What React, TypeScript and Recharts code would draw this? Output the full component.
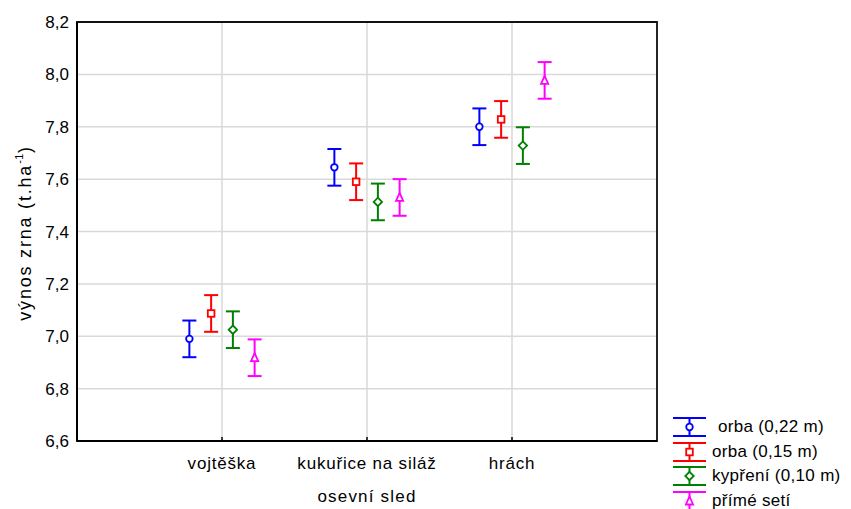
import React from "react";
import {
  ScatterChart,
  Scatter,
  XAxis,
  YAxis,
  CartesianGrid,
  ErrorBar,
  ReferenceArea,
} from "recharts";

const categories = ["vojtěška", "kukuřice na siláž", "hrách"];
const seriesNames = ["orba (0,22 m)", "orba (0,15 m)", "kypření (0,10 m)", "přímé setí"];

const orba22 = [6.99, 7.645, 7.8];
const orba15 = [7.087, 7.59, 7.828];
const kypreni = [7.025, 7.513, 7.728];
const prime = [6.918, 7.53, 7.977];
const errHalf = [0.07, 0.07, 0.07];

const yTicks = [6.6, 6.8, 7.0, 7.2, 7.4, 7.6, 7.8, 8.0, 8.2];

const colors = ["#0000ff", "#ff0000", "#008000", "#ff00ff"];
const shiftX = [-0.225, -0.075, 0.075, 0.225];
const shapes = ["circle", "square", "diamond", "triangle"];
const font = "'Liberation Sans', Arial, sans-serif";

const allSeries = [orba22, orba15, kypreni, prime];

const buildData = (vals: number[], k: number) =>
  vals.map((v, i) => ({ x: i + 1 + shiftX[k], y: v, err: errHalf[i] }));

const Marker = ({ kind, cx, cy, color }: { kind: string; cx: number; cy: number; color: string }) => {
  if (kind === "circle") return <circle cx={cx} cy={cy} r={3.3} fill="#fff" stroke={color} strokeWidth={1.8} />;
  if (kind === "square")
    return <rect x={cx - 3.3} y={cy - 3.3} width={6.6} height={6.6} fill="#fff" stroke={color} strokeWidth={1.8} />;
  if (kind === "diamond")
    return (
      <polygon
        points={`${cx},${cy - 4.2} ${cx + 4.2},${cy} ${cx},${cy + 4.2} ${cx - 4.2},${cy}`}
        fill="#fff"
        stroke={color}
        strokeWidth={1.8}
      />
    );
  return (
    <polygon
      points={`${cx},${cy - 4.5} ${cx + 3.6},${cy + 3.5} ${cx - 3.6},${cy + 3.5}`}
      fill="#fff"
      stroke={color}
      strokeWidth={1.8}
    />
  );
};

const XTick = (props: any) => {
  const { x, y, payload } = props;
  return (
    <g>
      <line x1={x} x2={x} y1={y} y2={y - 4} stroke="#000" strokeWidth={1.5} />
      <text x={x} y={y + 28} textAnchor="middle" fontSize={17} fill="#000" fontFamily={font} letterSpacing={0.8}>
        {categories[payload.value - 1]}
      </text>
    </g>
  );
};

const YLabel = () => (
  <text
    transform="translate(31, 233) rotate(-90)"
    textAnchor="middle"
    fontSize={18}
    fill="#000"
    fontFamily={font}
    letterSpacing={1.8}
  >
    výnos zrna (t.ha
    <tspan fontSize={11} dy={-8} letterSpacing={0.5}>-1</tspan>
    <tspan dy={8}>)</tspan>
  </text>
);

const LegendIcon = ({ k }: { k: number }) => (
  <svg width={36} height={20} style={{ display: "block" }}>
    <line x1={1} x2={34} y1={1} y2={1} stroke={colors[k]} strokeWidth={2} />
    <line x1={1} x2={34} y1={19} y2={19} stroke={colors[k]} strokeWidth={2} />
    <line x1={17.5} x2={17.5} y1={1} y2={19} stroke={colors[k]} strokeWidth={2} />
    <Marker kind={shapes[k]} cx={17.5} cy={10} color={colors[k]} />
  </svg>
);

export default function App() {
  return (
    <div style={{ position: "absolute", left: 0, top: 0, width: 851, height: 509, background: "#fff", fontFamily: font }}>
      <ScatterChart width={851} height={509} margin={{ top: 22, right: 194, bottom: 0, left: 0 }}>
        <CartesianGrid stroke="#d9d9d9" strokeWidth={1.5} />
        <XAxis
          type="number"
          dataKey="x"
          domain={[0, 4]}
          ticks={[1, 2, 3]}
          height={68}
          tickSize={0}
          tickMargin={0}
          tickLine={false}
          axisLine={{ stroke: "#000", strokeWidth: 2 }}
          tick={<XTick />}
          allowDataOverflow
          label={{ value: "osevní sled", position: "insideBottom", offset: 7, fontSize: 17, fill: "#000", fontFamily: font, letterSpacing: 1.2 }}
        />
        <YAxis
          type="number"
          dataKey="y"
          domain={[6.6, 8.2]}
          ticks={yTicks}
          width={77}
          tickSize={0}
          tickMargin={8}
          tickLine={false}
          axisLine={{ stroke: "#000", strokeWidth: 2 }}
          tick={{ fontSize: 17, fill: "#000", fontFamily: font }}
          tickFormatter={(v: number) => v.toFixed(1).replace(".", ",")}
          allowDataOverflow
          label={<YLabel />}
        />
        <ReferenceArea x1={0} x2={4} y1={6.6} y2={8.2} fill="none" stroke="#111" strokeWidth={1.8} />
        {allSeries.map((vals, k) => (
          <Scatter
            key={seriesNames[k]}
            name={seriesNames[k]}
            data={buildData(vals, k)}
            isAnimationActive={false}
            shape={(p: any) => <Marker kind={shapes[k]} cx={p.cx} cy={p.cy} color={colors[k]} />}
          >
            <ErrorBar dataKey="err" direction="y" width={7} stroke={colors[k]} strokeWidth={2} />
          </Scatter>
        ))}
      </ScatterChart>
      <div style={{ position: "absolute", left: 672, top: 415 }}>
        {seriesNames.map((n, k) => (
          <div key={n} style={{ display: "flex", alignItems: "center", height: 24.5, position: "relative" }}>
            <LegendIcon k={k} />
            <span style={{ fontSize: 17, marginLeft: k === 0 ? 10 : 4, color: "#000", whiteSpace: "nowrap", letterSpacing: 0.3 }}>{n}</span>
          </div>
        ))}
      </div>
    </div>
  );
}
